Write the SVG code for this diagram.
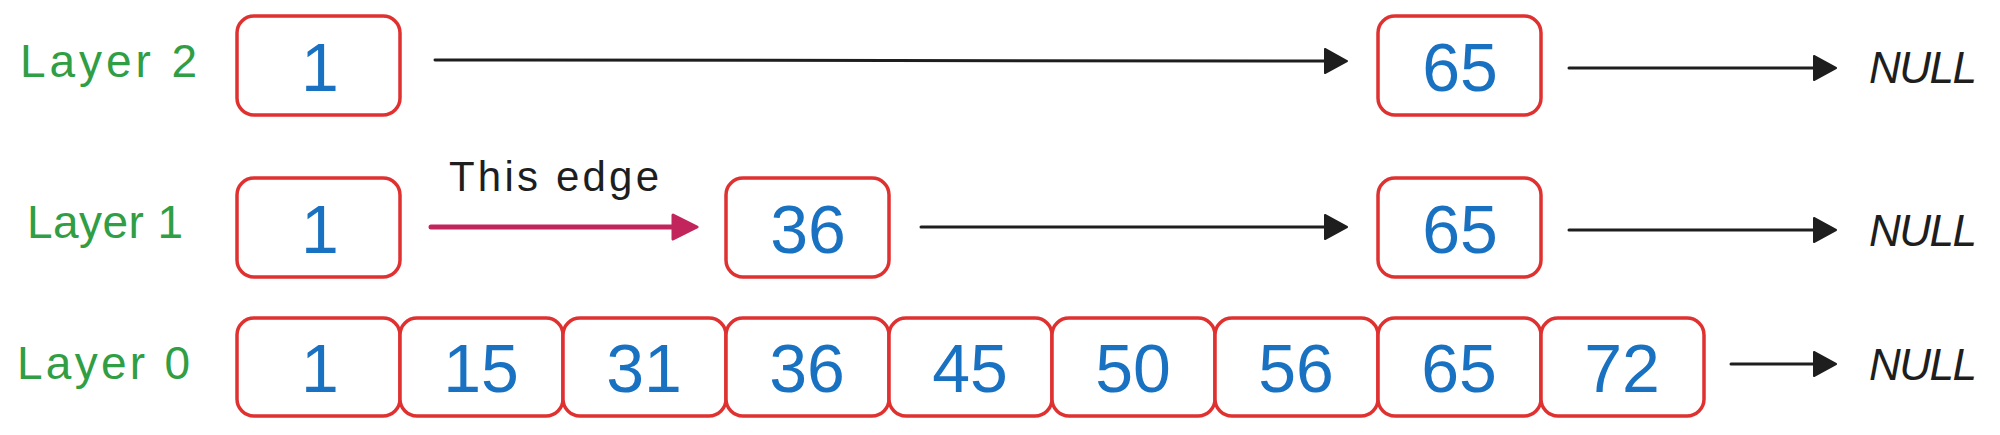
<svg xmlns="http://www.w3.org/2000/svg" width="2000" height="435" viewBox="0 0 2000 435">
<style>
.box{fill:#ffffff;stroke:#e03131;stroke-width:3.5}
.num{font-family:"Liberation Sans",Arial,sans-serif;font-size:68px;fill:#1971c2;text-anchor:middle}
.lbl{font-family:"Liberation Sans",Arial,sans-serif;font-size:46px;fill:#2f9e44}
.null{font-family:"Liberation Sans",Arial,sans-serif;font-size:44px;font-style:italic;fill:#1e1e1e}
.edge{font-family:"Liberation Sans",Arial,sans-serif;font-size:42px;fill:#1e1e1e}
.ln{stroke:#1e1e1e;stroke-width:3;fill:none;stroke-linecap:round;marker-end:url(#ah)}
.pk{stroke:#c2255c;stroke-width:5;fill:none;stroke-linecap:round;marker-end:url(#ahp)}
</style>
<defs>
<marker id="ah" viewBox="0 0 24 26" markerWidth="24" markerHeight="26" refX="4" refY="13" markerUnits="userSpaceOnUse" orient="auto">
<path d="M1,1 L23,13 L1,25 Z" fill="#1e1e1e" stroke="#1e1e1e" stroke-width="2" stroke-linejoin="round"/>
</marker>
<marker id="ahp" viewBox="0 0 28 28" markerWidth="28" markerHeight="28" refX="5" refY="14" markerUnits="userSpaceOnUse" orient="auto">
<path d="M2,2 L26,14 L2,26 Z" fill="#c2255c" stroke="#c2255c" stroke-width="3" stroke-linejoin="round"/>
</marker>
</defs>
<rect width="2000" height="435" fill="#ffffff"/>

<g id="labels">
<text class="lbl" x="20" y="77" textLength="177" lengthAdjust="spacing">Layer 2</text>
<text class="lbl" x="27" y="238" textLength="156" lengthAdjust="spacing">Layer 1</text>
<text class="lbl" x="17" y="379" textLength="173" lengthAdjust="spacing">Layer 0</text>
</g>

<g id="connectors">
<path class="ln" d="M435,60 L1328,61"/>
<path class="ln" d="M1569,68 L1817,68"/>
<path class="pk" d="M431,227 L676,227"/>
<path class="ln" d="M921,227 L1328,227"/>
<path class="ln" d="M1569,230 L1817,230"/>
<path class="ln" d="M1731,364 L1817,364"/>
</g>
<text id="edge-label" class="edge" x="449" y="191" textLength="210" lengthAdjust="spacing">This edge</text>

<g id="l2-1"><rect class="box" x="237" y="16" width="163" height="99" rx="17"/><text class="num" x="320" y="91">1</text></g>
<g id="l2-65"><rect class="box" x="1378" y="16" width="163" height="99" rx="17"/><text class="num" x="1460" y="91">65</text></g>
<g id="l2-null"><text class="null" x="1869" y="83" textLength="108" lengthAdjust="spacing">NULL</text></g>

<g id="l1-1"><rect class="box" x="237" y="178" width="163" height="99" rx="17"/><text class="num" x="320" y="253">1</text></g>
<g id="l1-36"><rect class="box" x="726" y="178" width="163" height="99" rx="17"/><text class="num" x="808" y="253">36</text></g>
<g id="l1-65"><rect class="box" x="1378" y="178" width="163" height="99" rx="17"/><text class="num" x="1460" y="253">65</text></g>
<g id="l1-null"><text class="null" x="1869" y="246" textLength="108" lengthAdjust="spacing">NULL</text></g>

<g id="l0-1"><rect class="box" x="237" y="318" width="163" height="98" rx="17"/><text class="num" x="320" y="392">1</text></g>
<g id="l0-15"><rect class="box" x="400" y="318" width="163" height="98" rx="17"/><text class="num" x="481" y="392">15</text></g>
<g id="l0-31"><rect class="box" x="563" y="318" width="163" height="98" rx="17"/><text class="num" x="644" y="392">31</text></g>
<g id="l0-36"><rect class="box" x="726" y="318" width="163" height="98" rx="17"/><text class="num" x="807" y="392">36</text></g>
<g id="l0-45"><rect class="box" x="889" y="318" width="163" height="98" rx="17"/><text class="num" x="970" y="392">45</text></g>
<g id="l0-50"><rect class="box" x="1052" y="318" width="163" height="98" rx="17"/><text class="num" x="1133" y="392">50</text></g>
<g id="l0-56"><rect class="box" x="1215" y="318" width="163" height="98" rx="17"/><text class="num" x="1296" y="392">56</text></g>
<g id="l0-65"><rect class="box" x="1378" y="318" width="163" height="98" rx="17"/><text class="num" x="1459" y="392">65</text></g>
<g id="l0-72"><rect class="box" x="1541" y="318" width="163" height="98" rx="17"/><text class="num" x="1622" y="392">72</text></g>
<g id="l0-null"><text class="null" x="1869" y="380" textLength="108" lengthAdjust="spacing">NULL</text></g>
</svg>
